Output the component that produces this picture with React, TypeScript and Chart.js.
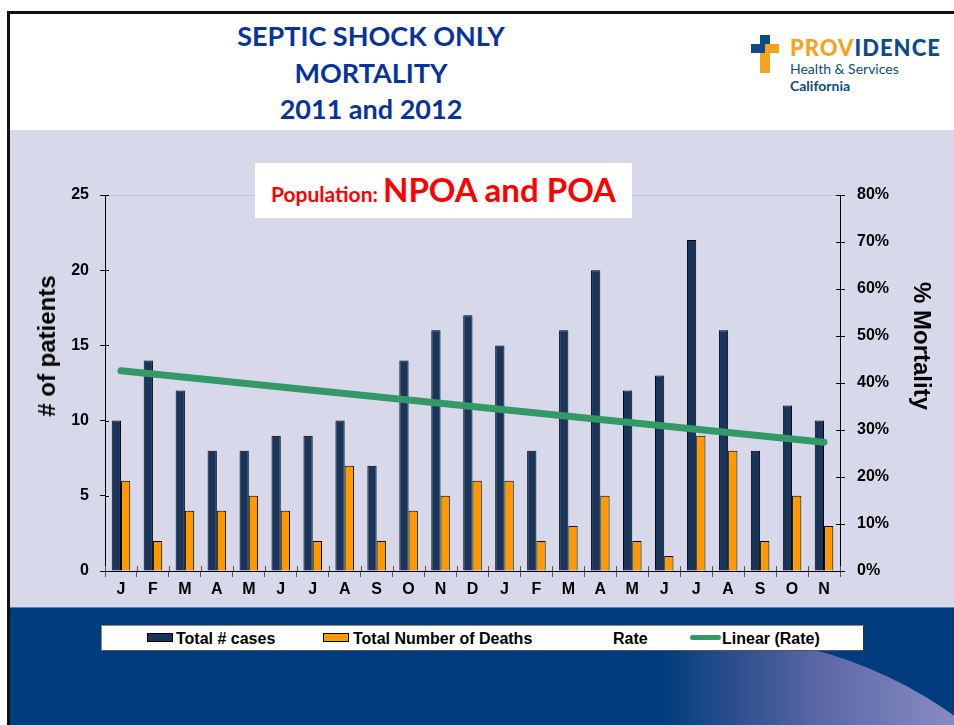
import React, { useEffect, useRef } from "react";
import { Chart, registerables } from "chart.js";

Chart.register(...registerables);

const months = ["J", "F", "M", "A", "M", "J", "J", "A", "S", "O", "N", "D", "J", "F", "M", "A", "M", "J", "J", "A", "S", "O", "N"];
const totalCases = [10, 14, 12, 8, 8, 9, 9, 10, 7, 14, 16, 17, 15, 8, 16, 20, 12, 13, 22, 16, 8, 11, 10];
const totalDeaths = [6, 2, 4, 4, 5, 4, 2, 7, 2, 4, 5, 6, 6, 2, 3, 5, 2, 1, 9, 8, 2, 5, 3];
const rateValues = [0.6, 0.143, 0.333, 0.5, 0.625, 0.444, 0.222, 0.7, 0.286, 0.286, 0.313, 0.353, 0.4, 0.25, 0.188, 0.25, 0.167, 0.077, 0.409, 0.5, 0.25, 0.455, 0.3];
const leftMax = 25;
const leftStep = 5;
const rightMax = 0.8;
const rightStep = 0.1;

function linearTrend(vals: number[]): number[] {
  const n = vals.length;
  let sx = 0, sy = 0, sxy = 0, sxx = 0;
  vals.forEach((v, i) => { sx += i; sy += v; sxy += i * v; sxx += i * i; });
  const b = (n * sxy - sx * sy) / (n * sxx - sx * sx);
  const a = (sy - b * sx) / n;
  return vals.map((_, i) => a + b * i);
}

const ARIAL = "'Liberation Sans', Arial, sans-serif";
const CAL = "Lato, 'Open Sans', sans-serif";

const decorPlugin = {
  id: "decor",
  beforeDatasetsDraw(chart: any) {
    const { ctx, chartArea: a } = chart;
    ctx.save();
    ctx.strokeStyle = "#a9c9ef";
    ctx.lineWidth = 1;
    ctx.beginPath();
    ctx.moveTo(a.left, a.top + 0.5);
    ctx.lineTo(a.right, a.top + 0.5);
    ctx.stroke();
    ctx.restore();
  },
  afterDraw(chart: any) {
    const { ctx, chartArea: a, scales } = chart;
    ctx.save();
    ctx.strokeStyle = "#000";
    ctx.lineWidth = 1;
    ctx.beginPath();
    scales.y.ticks.forEach((_: any, i: number) => {
      const y = Math.round(scales.y.getPixelForTick(i)) + 0.5;
      ctx.moveTo(a.left, y);
      ctx.lineTo(a.left + 4, y);
    });
    scales.y2.ticks.forEach((_: any, i: number) => {
      const y = Math.round(scales.y2.getPixelForTick(i)) + 0.5;
      ctx.moveTo(a.right - 4, y);
      ctx.lineTo(a.right, y);
    });
    ctx.stroke();
    ctx.strokeStyle = "#555";
    ctx.beginPath();
    const n = chart.data.labels.length;
    for (let i = 0; i <= n; i++) {
      const x = Math.round(a.left + (i * (a.right - a.left)) / n) + 0.5;
      ctx.moveTo(x, a.bottom - 5);
      ctx.lineTo(x, a.bottom);
    }
    ctx.stroke();
    ctx.restore();
  },
};

function ChartCanvas() {
  const ref = useRef<HTMLCanvasElement | null>(null);
  useEffect(() => {
    if (!ref.current) return;
    const tickFont = { family: ARIAL, size: 16, weight: "bold" as const };
    const chart = new Chart(ref.current, {
      type: "bar",
      data: {
        labels: months,
        datasets: [
          {
            type: "bar",
            label: "Total # cases",
            data: totalCases,
            backgroundColor: "#18365c",
            borderColor: "#000",
            borderWidth: 1,
            yAxisID: "y",
            order: 2,
            categoryPercentage: 0.58,
            barPercentage: 1,
          },
          {
            type: "bar",
            label: "Total Number of Deaths",
            data: totalDeaths,
            backgroundColor: "#ff9900",
            borderColor: "#000",
            borderWidth: 1,
            yAxisID: "y",
            order: 2,
            categoryPercentage: 0.58,
            barPercentage: 1,
          },
          {
            type: "line",
            label: "Rate",
            data: rateValues,
            yAxisID: "y2",
            showLine: false,
            pointRadius: 0,
            order: 1,
          },
          {
            type: "line",
            label: "Linear (Rate)",
            data: linearTrend(rateValues),
            yAxisID: "y2",
            borderColor: "#339966",
            borderWidth: 7,
            borderCapStyle: "round",
            pointRadius: 0,
            fill: false,
            order: 0,
          },
        ],
      } as any,
      options: {
        animation: false,
        responsive: false,
        maintainAspectRatio: false,
        layout: { padding: { left: 0, right: 0, top: 65, bottom: 5 } },
        plugins: { legend: { display: false }, tooltip: { enabled: false } },
        scales: {
          x: {
            grid: { offset: true, drawOnChartArea: false, tickLength: 6, color: "#555" },
            border: { color: "#000", width: 1 },
            ticks: { font: tickFont, color: "#000", padding: 3, maxRotation: 0, autoSkip: false },
            afterFit: (s: any) => { s.height = 30; },
          },
          y: {
            position: "left",
            min: 0,
            max: leftMax,
            ticks: { stepSize: leftStep, font: tickFont, color: "#000", padding: 11 },
            grid: { drawOnChartArea: false, tickLength: 5, color: "#000" },
            border: { color: "#000", width: 1 },
            afterFit: (s: any) => { s.width = 105; },
          },
          y2: {
            position: "right",
            min: 0,
            max: rightMax,
            ticks: {
              stepSize: rightStep,
              font: tickFont,
              color: "#000",
              padding: 12,
              callback: (v: any) => Math.round(Number(v) * 100) + "%",
            },
            grid: { drawOnChartArea: false, tickLength: 5, color: "#000" },
            border: { color: "#000", width: 1 },
            afterFit: (s: any) => { s.width = 114; },
          },
        },
      } as any,
      plugins: [decorPlugin],
    });
    return () => chart.destroy();
  }, []);
  return (
    <canvas
      ref={ref}
      width={954}
      height={476}
      style={{ position: "absolute", left: 0, top: 130, width: 954, height: 476 }}
    />
  );
}

const legendText: React.CSSProperties = {
  position: "absolute",
  top: 3,
  fontFamily: ARIAL,
  fontWeight: "bold",
  fontSize: 16,
  color: "#000",
  whiteSpace: "nowrap",
  lineHeight: "19px",
};

export default function App() {
  return (
    <div style={{ position: "fixed", left: 0, top: 0, width: 954, height: 725, overflow: "hidden", background: "#fff" }}>
      {/* lavender chart background */}
      <div style={{ position: "absolute", left: 10, top: 130, width: 944, height: 477, background: "#d8d8eb" }} />
      {/* blue band */}
      <div style={{ position: "absolute", left: 10, top: 607, width: 944, height: 118, background: "#013d7e", overflow: "hidden", borderTop: "1px solid #5b7fb8", boxSizing: "border-box" }}>
        <div
          style={{
            position: "absolute",
            left: 270,
            top: 28,
            width: 852,
            height: 852,
            borderRadius: "50%",
            background: "linear-gradient(to right, #013d7e 45%, #30508f 54%, #5e68a7 64%, #8489c0 78%, #9a9dcb 100%)",
          }}
        />
      </div>
      {/* slide frame */}
      <div style={{ position: "absolute", left: 7, top: 11, width: 960, height: 730, borderTop: "3px solid #111", borderLeft: "3px solid #111", boxSizing: "border-box" }} />

      {/* title */}
      <div style={{ position: "absolute", left: 170, top: 18, width: 402, textAlign: "center", fontFamily: CAL, fontWeight: "bold", fontSize: 27, lineHeight: "36.5px", color: "#08339c" }}>
        <div>SEPTIC SHOCK ONLY</div>
        <div>MORTALITY</div>
        <div>2011 and 2012</div>
      </div>

      {/* logo */}
      <div style={{ position: "absolute", left: 760, top: 35, width: 10, height: 18, background: "#0b4a8b" }} />
      <div style={{ position: "absolute", left: 760, top: 53, width: 10, height: 20, background: "#f7a21b" }} />
      <div style={{ position: "absolute", left: 751, top: 44, width: 14, height: 9, background: "#0b4a8b" }} />
      <div style={{ position: "absolute", left: 765, top: 44, width: 14, height: 9, background: "#f7a21b" }} />
      <div style={{ position: "absolute", left: 790, top: 35, fontFamily: CAL, fontWeight: 900, fontSize: 22, letterSpacing: 1, lineHeight: "26px", whiteSpace: "nowrap" }}>
        <span style={{ color: "#f7a21b" }}>PROV</span>
        <span style={{ color: "#0b4a8b" }}>IDENCE</span>
      </div>
      <div style={{ position: "absolute", left: 790, top: 60, fontFamily: CAL, fontSize: 14, lineHeight: "17px", color: "#0b4a8b", whiteSpace: "nowrap" }}>
        Health &amp; Services
      </div>
      <div style={{ position: "absolute", left: 790, top: 77, fontFamily: CAL, fontWeight: "bold", fontSize: 14, lineHeight: "17px", color: "#0b4a8b", whiteSpace: "nowrap" }}>
        California
      </div>

      <ChartCanvas />

      {/* population box */}
      <div style={{ position: "absolute", left: 255, top: 163, width: 377, height: 55, background: "#fff", display: "flex", alignItems: "baseline", justifyContent: "center", fontFamily: CAL, fontWeight: "bold", color: "#ff0000", boxSizing: "border-box", paddingTop: 6, whiteSpace: "nowrap" }}>
        <span style={{ fontSize: 21 }}>Population:&nbsp;</span>
        <span style={{ fontSize: 33 }}>NPOA and POA</span>
      </div>

      {/* axis titles */}
      <div style={{ position: "absolute", left: 47, top: 346, transform: "translate(-50%, -50%) rotate(-90deg)", fontFamily: ARIAL, fontWeight: "bold", fontSize: 24, color: "#000", whiteSpace: "nowrap" }}>
        # of patients
      </div>
      <div style={{ position: "absolute", left: 922, top: 346, transform: "translate(-50%, -50%) rotate(90deg)", fontFamily: ARIAL, fontWeight: "bold", fontSize: 24, color: "#000", whiteSpace: "nowrap" }}>
        % Mortality
      </div>

      {/* legend */}
      <div style={{ position: "absolute", left: 101, top: 625, width: 763, height: 26, background: "#fff", border: "1px solid #888", borderRightColor: "#333", borderBottomColor: "#555", boxSizing: "border-box" }}>
        <div style={{ position: "absolute", left: 45, top: 7, width: 26, height: 9, background: "#18365c", border: "1px solid #000", boxSizing: "border-box" }} />
        <span style={{ ...legendText, left: 74 }}>Total # cases</span>
        <div style={{ position: "absolute", left: 221, top: 7, width: 26, height: 9, background: "#ff9900", border: "1px solid #000", boxSizing: "border-box" }} />
        <span style={{ ...legendText, left: 251 }}>Total Number of Deaths</span>
        <span style={{ ...legendText, left: 511 }}>Rate</span>
        <div style={{ position: "absolute", left: 588, top: 9, width: 31, height: 5, background: "#339966", borderRadius: 3 }} />
        <span style={{ ...legendText, left: 620 }}>Linear (Rate)</span>
      </div>
    </div>
  );
}
